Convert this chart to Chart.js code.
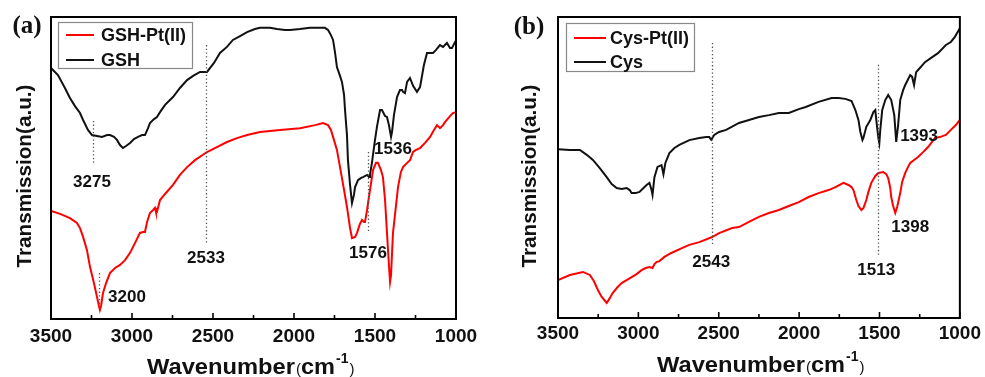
<!DOCTYPE html>
<html><head><meta charset="utf-8">
<script src="https://cdn.jsdelivr.net/npm/chart.js@4.4.0/dist/chart.umd.min.js"></script>
<style>
html,body{margin:0;padding:0;background:#fff;width:985px;height:377px;overflow:hidden}
canvas{position:absolute;top:0}
#ca{left:0}
#cb{left:492px}
</style></head><body>
<canvas id="ca" width="492" height="377"></canvas>
<canvas id="cb" width="493" height="377"></canvas>
<script>
// ---------- DATA ----------
const xTicks = [3500, 3000, 2500, 2000, 1500, 1000];
const xMinorTicks = [3250, 2750, 2250, 1750, 1250];

// Panel (a)
const gshPtWn = [3500,3444,3383,3340,3321,3302,3278,3259,3235,3216,3204,3198,3191,3179,3160,3136,3105,3074,3043,3012,2981,2951,2932,2920,2907,2889,2870,2858,2852,2846,2827,2796,2747,2704,2660,2611,2537,2488,2414,2352,2290,2210,2086,1963,1870,1821,1790,1772,1759,1735,1716,1691,1673,1654,1642,1623,1611,1593,1580,1568,1562,1549,1543,1531,1512,1494,1482,1463,1451,1438,1426,1414,1407,1401,1389,1370,1358,1340,1327,1302,1284,1265,1247,1222,1191,1160,1136,1117,1099,1080,1068,1037,1019,1000];
const gshPtT  = [35.8,34.8,33.4,31.8,30.1,27.2,22.8,17.2,11.9,7.3,4.3,3.0,4.3,8.6,11.9,15.2,16.9,17.9,19.5,21.9,25.2,28.5,28.8,28.8,32.1,35.1,36.1,36.8,35.4,35.4,39.4,41.4,44.4,47.7,50.3,52.6,55.3,56.6,58.6,59.9,60.9,61.9,62.6,63.2,64.2,64.9,64.2,62.6,60.3,56.0,50.3,42.7,37.1,30.1,26.8,27.2,28.5,31.5,32.8,32.1,32.1,36.1,38.4,42.7,49.3,51.7,51.7,49.3,47.0,39.4,28.5,17.9,12.3,14.6,28.5,37.7,43.7,48.7,50.3,51.7,52.6,55.3,56.0,56.6,58.3,60.3,62.6,64.2,63.2,64.2,65.2,67.2,68.2,68.5];
const gshWn = [3500,3457,3414,3383,3352,3321,3302,3272,3247,3216,3185,3154,3136,3111,3093,3074,3056,3037,3012,2988,2963,2938,2920,2901,2889,2864,2846,2827,2796,2747,2704,2660,2623,2580,2537,2494,2457,2414,2377,2333,2290,2241,2210,2148,2105,2056,2025,1963,1901,1840,1809,1790,1772,1759,1747,1735,1716,1704,1691,1685,1673,1667,1654,1642,1630,1623,1605,1586,1574,1549,1537,1531,1519,1500,1488,1469,1457,1438,1426,1414,1401,1395,1383,1364,1346,1333,1327,1315,1302,1284,1265,1241,1222,1198,1179,1142,1123,1099,1080,1056,1037,1025,1006,1000];
const gshT  = [83.1,80.8,76.5,73.2,70.5,68.2,65.9,62.6,60.9,60.6,60.3,60.9,60.9,60.3,59.3,57.6,56.6,57.3,58.3,59.6,60.3,60.9,60.9,63.2,64.9,66.2,66.9,68.5,70.9,73.5,76.5,79.1,80.5,81.8,81.8,84.8,88.1,90.1,92.4,93.7,95.0,96.0,96.4,96.4,96.0,95.7,95.7,96.0,96.4,96.4,96.4,95.7,94.0,92.4,88.4,83.4,80.5,78.5,74.2,69.2,60.9,52.6,44.4,38.4,41.1,43.7,46.0,46.7,47.0,47.7,47.0,47.7,51.7,59.3,63.6,69.2,69.2,67.2,66.9,64.2,60.3,61.9,67.5,73.5,75.8,75.8,75.2,74.8,78.5,79.8,77.2,75.2,76.8,84.1,88.1,88.1,89.1,90.7,90.1,91.4,89.7,89.7,91.7,91.4];

// Panel (b)
const cysPtWn = [3500,3426,3345,3302,3277,3252,3228,3197,3178,3160,3129,3104,3073,3042,3011,2980,2955,2931,2912,2900,2887,2869,2838,2795,2726,2683,2621,2541,2498,2417,2374,2312,2250,2188,2126,2064,2002,1941,1879,1817,1774,1724,1693,1674,1662,1644,1631,1613,1600,1582,1569,1551,1526,1507,1477,1458,1446,1433,1427,1415,1402,1390,1371,1359,1340,1322,1309,1285,1260,1229,1198,1173,1155,1124,1087,1056,1025,1000];
const cysPtT  = [12.6,14.3,15.3,14.3,12.3,9.3,7.0,5.0,6.6,8.3,10.3,11.6,12.6,13.6,14.6,15.9,16.6,16.9,16.6,17.9,18.6,18.9,20.3,21.6,23.3,24.3,25.2,26.9,28.2,29.9,30.2,31.9,33.6,34.9,35.9,37.2,38.5,40.2,41.5,42.5,43.5,44.9,44.2,43.5,42.5,39.2,37.2,35.9,36.5,39.2,41.9,44.9,47.2,48.2,48.5,47.8,46.5,43.2,40.2,37.2,34.9,36.9,41.5,45.2,48.2,50.2,51.5,52.5,53.5,55.1,56.8,58.5,59.8,60.1,60.8,62.5,64.1,65.8];
const cysWn = [3500,3426,3364,3321,3283,3240,3197,3166,3135,3104,3073,3054,3042,3017,2993,2968,2949,2931,2918,2912,2900,2881,2856,2844,2832,2807,2776,2745,2683,2621,2578,2559,2547,2528,2498,2454,2374,2312,2250,2188,2126,2064,2002,1959,1879,1798,1755,1712,1674,1650,1631,1619,1606,1600,1582,1557,1538,1526,1520,1507,1501,1495,1483,1464,1446,1427,1408,1396,1384,1371,1353,1340,1309,1297,1285,1272,1260,1217,1179,1136,1087,1056,1031,1000];
const cysT  = [56.1,55.8,55.8,54.2,52.5,49.8,46.8,44.5,43.2,42.9,43.2,42.5,41.5,41.5,41.9,43.2,44.2,44.9,42.5,40.9,46.8,50.2,50.8,47.8,51.5,54.8,56.5,57.5,59.1,59.8,60.1,60.1,59.2,60.8,61.8,62.5,64.8,65.8,66.8,67.4,68.1,68.1,69.4,70.1,71.8,73.1,73.1,72.8,72.1,69.1,65.8,61.8,59.1,59.8,63.5,65.8,68.4,69.1,65.8,59.8,58.1,62.5,69.1,72.4,74.1,72.4,67.4,58.5,64.1,72.4,75.7,77.4,80.7,80.1,77.4,81.7,82.4,85.0,86.4,88.0,90.7,91.7,93.4,96.3];

const seriesNamesA = ['GSH-Pt(II)', 'GSH'];
const seriesNamesB = ['Cys-Pt(II)', 'Cys'];

// Dotted peak markers: [wavenumber, from T, to T]; peak labels: [text, wavenumber, T]
const markersA = [[3241, 65.6, 51.7], [3204, 15.2, 3.0], [2543, 90.7, 24.5], [1543, 55.3, 28.5]];
const peakLabelsA = [['3275', 3247, 45.4], ['3200', 3031, 7.3], ['2533', 2543, 20.2], ['1576', 1543, 21.9], ['1536', 1389, 56.3]];
const markersB = [[2543, 91.4, 24.3], [1507, 84.1, 20.3]];
const peakLabelsB = [['2543', 2547, 18.6], ['1513', 1520, 15.9], ['1393', 1254, 60.5], ['1398', 1309, 30.2]];

const panelLabels = ['(a)', '(b)'];
const yTitleText = 'Transmission(a.u.)';

// ---------- DRAWING ----------
const SANS = '"Liberation Sans", Arial, Helvetica, sans-serif';
const SERIF = '"Liberation Serif", "Times New Roman", serif';

function pairs(xs, ys) { return xs.map((x, i) => ({x: x, y: ys[i]})); }

function drawStretched(ctx, text, x, y, targetW) {
  const w = ctx.measureText(text).width;
  ctx.save();
  ctx.translate(x, y);
  ctx.scale(targetW / w, 1);
  ctx.fillText(text, 0, 0);
  ctx.restore();
}

function makeChart(id, names, d1x, d1y, d2x, d2y, lay) {
  const decor = {
    id: 'decor_' + id,
    afterDatasetsDraw(chart) {
      const ctx = chart.ctx, xs = chart.scales.x, ys = chart.scales.y, a = chart.chartArea;
      ctx.save();
      // dotted markers
      ctx.strokeStyle = '#555';
      ctx.lineWidth = 1.3;
      ctx.setLineDash([1.3, 2.4]);
      lay.markers.forEach(([wn, t1, t2]) => {
        const px = Math.round(xs.getPixelForValue(wn)) + 0.5;
        ctx.beginPath();
        ctx.moveTo(px, ys.getPixelForValue(t1));
        ctx.lineTo(px, ys.getPixelForValue(t2));
        ctx.stroke();
      });
      ctx.setLineDash([]);
      // peak labels
      ctx.fillStyle = '#111';
      ctx.font = 'bold 17px ' + SANS;
      ctx.textAlign = 'center';
      ctx.textBaseline = 'middle';
      lay.peakLabels.forEach(([t, wn, v]) => {
        ctx.fillText(t, xs.getPixelForValue(wn), ys.getPixelForValue(v));
      });
      // inward ticks
      ctx.strokeStyle = '#000';
      ctx.lineWidth = 1.6;
      xTicks.forEach(v => {
        const px = xs.getPixelForValue(v);
        ctx.beginPath(); ctx.moveTo(px, a.bottom); ctx.lineTo(px, a.bottom - 6); ctx.stroke();
      });
      xMinorTicks.forEach(v => {
        const px = xs.getPixelForValue(v);
        ctx.beginPath(); ctx.moveTo(px, a.bottom); ctx.lineTo(px, a.bottom - 4); ctx.stroke();
      });
      // frame
      ctx.lineWidth = 2;
      ctx.strokeRect(a.left, a.top, a.right - a.left, a.bottom - a.top);
      // legend
      const L = lay.legend;
      ctx.fillStyle = '#fff';
      ctx.fillRect(L.x, L.y, L.w, L.h);
      ctx.strokeStyle = '#888';
      ctx.lineWidth = 1.2;
      ctx.strokeRect(L.x + 0.5, L.y + 0.5, L.w, L.h);
      ctx.font = 'bold 18px ' + SANS;
      ctx.textAlign = 'left';
      ctx.textBaseline = 'middle';
      chart.data.datasets.forEach((ds, i) => {
        const ry = L.rows[i];
        ctx.strokeStyle = ds.borderColor;
        ctx.lineWidth = 2;
        ctx.beginPath(); ctx.moveTo(L.lx1, ry); ctx.lineTo(L.lx2, ry); ctx.stroke();
        ctx.fillStyle = '#111';
        ctx.fillText(ds.label, L.tx, ry + 1);
      });
      ctx.restore();
    },
    afterDraw(chart) {
      const ctx = chart.ctx;
      ctx.save();
      ctx.fillStyle = '#111';
      // panel label
      ctx.font = 'bold 25px ' + SERIF;
      ctx.textAlign = 'center';
      ctx.textBaseline = 'middle';
      ctx.fillText(lay.panel, lay.panelX, lay.panelY);
      // y title
      ctx.save();
      ctx.translate(lay.yTitleX, lay.yTitleY);
      ctx.rotate(-Math.PI / 2);
      ctx.font = 'bold 21px ' + SANS;
      ctx.textAlign = 'left';
      ctx.textBaseline = 'middle';
      drawStretched(ctx, yTitleText, -lay.yTitleLen / 2, 0, lay.yTitleLen);
      ctx.restore();
      // x title: Wavenumber(cm-1) with superscript
      ctx.textAlign = 'left';
      ctx.textBaseline = 'alphabetic';
      let x = lay.xTitleX;
      const by = lay.xTitleY;
      ctx.font = 'bold 22px ' + SANS;
      drawStretched(ctx, 'Wavenumber', x, by, 148); x += 148;
      ctx.font = '15px ' + SANS;
      ctx.fillText('(', x + 1, by); x += ctx.measureText('(').width + 1;
      ctx.font = 'bold 22px ' + SANS;
      const cmW = ctx.measureText('cm').width * 1.07;
      drawStretched(ctx, 'cm', x, by, cmW); x += cmW + 1;
      ctx.font = 'bold 14px ' + SANS;
      ctx.fillText('-1', x, by - 11); x += ctx.measureText('-1').width + 1;
      ctx.font = '15px ' + SANS;
      ctx.fillText(')', x, by);
      ctx.restore();
    }
  };

  return new Chart(document.getElementById(id), {
    type: 'line',
    data: {
      datasets: [
        {label: names[0], data: pairs(d1x, d1y), borderColor: '#ff0000', borderWidth: 2, pointRadius: 0, tension: 0, fill: false},
        {label: names[1], data: pairs(d2x, d2y), borderColor: '#111111', borderWidth: 2, pointRadius: 0, tension: 0, fill: false}
      ]
    },
    options: {
      responsive: false,
      animation: false,
      devicePixelRatio: 1,
      layout: {padding: {left: lay.padL, right: lay.padR, top: 17, bottom: 0}},
      plugins: {legend: {display: false}, tooltip: {enabled: false}},
      scales: {
        x: {
          type: 'linear', reverse: true, min: 1000, max: 3500,
          afterBuildTicks(s) { s.ticks = xTicks.map(v => ({value: v})); },
          afterFit(s) { s.height = lay.xH; },
          grid: {display: false, drawTicks: false},
          border: {display: false},
          ticks: {
            callback: v => String(v),
            font: {family: SANS, size: 19, weight: 'bold'},
            color: '#111', padding: lay.tickPad,
            maxRotation: 0, minRotation: 0, autoSkip: false
          }
        },
        y: {type: 'linear', display: false, min: 0, max: 100}
      }
    },
    plugins: [decor]
  });
}

makeChart('ca', seriesNamesA, gshPtWn, gshPtT, gshWn, gshT, {
  padL: 51, padR: 36, xH: 58, tickPad: 6,
  markers: markersA, peakLabels: peakLabelsA,
  legend: {x: 58, y: 22, w: 134, h: 46, rows: [35, 60], lx1: 66, lx2: 94, tx: 101},
  panel: panelLabels[0], panelX: 27, panelY: 27,
  yTitleX: 25, yTitleY: 176, yTitleLen: 183,
  xTitleX: 147, xTitleY: 374
});
makeChart('cb', seriesNamesB, cysPtWn, cysPtT, cysWn, cysT, {
  padL: 66, padR: 23, xH: 59, tickPad: 4,
  markers: markersB, peakLabels: peakLabelsB,
  legend: {x: 74, y: 23, w: 128, h: 48, rows: [38, 62], lx1: 82, lx2: 114, tx: 118},
  panel: panelLabels[1], panelX: 37, panelY: 28,
  yTitleX: 38, yTitleY: 176, yTitleLen: 183,
  xTitleX: 165, xTitleY: 372
});
</script>
</body></html>
